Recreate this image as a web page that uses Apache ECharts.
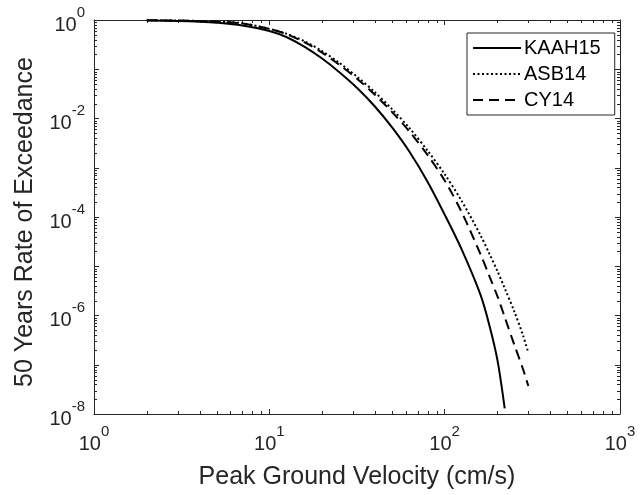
<!DOCTYPE html>
<html>
<head>
<meta charset="utf-8">
<script src="https://cdn.jsdelivr.net/npm/echarts@6/dist/echarts.min.js"></script>
<style>html,body{margin:0;padding:0;background:#fff;}#c{width:640px;height:495px;}</style>
</head>
<body>
<div id="c"></div>
<script>
// PGV values (cm/s)
var pgvKAAH = [2,3,4,5,7,10,12.5,16,20,25,32,40,50,63,80,100,125,160,180,200,220];
var pgvOther = [2,3,4,5,7,10,12.5,16,20,25,32,40,50,63,80,100,125,160,180,200,220,250,280,300];
// 50-year rate of exceedance
var kaah15 = [0.98,0.955,0.923,0.881,0.776,0.6,0.451,0.282,0.165,0.088,0.0402,0.0175,0.00667,0.00211,0.000515,0.000112,0.000022,0.00000265,0.00000063,0.000000124,0.000000013];
var asb14 = [0.99,0.975,0.955,0.93,0.86,0.66,0.528,0.366,0.233,0.136,0.0682,0.0341,0.0156,0.00637,0.00221,0.00074,0.000212,0.0000427,0.0000178,0.00000798,0.00000357,0.00000119,0.00000039,0.000000175];
var cy14 = [0.99,0.975,0.95,0.925,0.85,0.66,0.517,0.348,0.218,0.124,0.0622,0.0304,0.0136,0.00542,0.0018,0.00055,0.000126,0.0000176,0.00000625,0.00000245,0.00000093,0.00000025,0.000000081,0.000000037];
var seriesNames = ['KAAH15','ASB14','CY14'];

function pairs(xs, ys){ return xs.map(function(x,i){ return [x, ys[i]]; }); }

var axisColor = '#262626';
var FONT = 'Liberation Sans, Arial, Helvetica, sans-serif';
function powLabel(v, show){
  var e = Math.round(Math.log(v)/Math.LN10);
  if (!show(e)) return '';
  return '{b|10}{s|' + e + '}';
}
var rich = {
  b: {fontSize: 20, fontFamily: FONT, color: axisColor, lineHeight: 30, verticalAlign: 'bottom'},
  s: {fontSize: 15, fontFamily: FONT, color: axisColor, lineHeight: 30, verticalAlign: 'top'}
};

var chart = echarts.init(document.getElementById('c'), null, {renderer: 'canvas'});
var common = {
  type: 'log', logBase: 10,
  axisLine: {show: true, onZero: false, lineStyle: {color: axisColor, width: 1}},
  axisTick: {show: true, inside: true, length: 5, lineStyle: {color: axisColor}},
  splitLine: {show: false}
};
var option = {
  animation: false,
  backgroundColor: '#fff',
  grid: {left: 94, right: 20, top: 20, bottom: 79, containLabel: false},
  xAxis: [
    Object.assign({}, common, {
      min: 1, max: 1000, splitNumber: 3, position: 'bottom',
      name: 'Peak Ground Velocity (cm/s)', nameLocation: 'middle', nameGap: 51,
      nameTextStyle: {fontSize: 25, fontFamily: FONT, color: axisColor},
      axisLabel: {margin: 10, formatter: function(v){ return powLabel(v, function(){return true;}); }, rich: rich}
    }),
    Object.assign({}, common, {
      min: 1, max: 1000, splitNumber: 3, position: 'top',
      axisLabel: {show: false}
    })
  ],
  yAxis: [
    Object.assign({}, common, {
      min: 1e-8, max: 1, splitNumber: 8, position: 'left',
      name: '50 Years Rate of Exceedance', nameLocation: 'middle', nameGap: 56,
      nameTextStyle: {fontSize: 25, fontFamily: FONT, color: axisColor, padding: [0, 10, 0, 0]},
      axisLabel: {margin: 9, formatter: function(v){ return powLabel(v, function(e){ return e % 2 === 0; }); }, rich: rich}
    }),
    Object.assign({}, common, {
      min: 1e-8, max: 1, splitNumber: 8, position: 'right',
      axisLabel: {show: false}
    })
  ],
  legend: {
    orient: 'vertical', left: 467, top: 33,
    data: seriesNames,
    backgroundColor: '#fff', borderColor: axisColor, borderWidth: 1, borderRadius: 0,
    padding: [5, 14, 5, 5], itemGap: 6, itemWidth: 48, itemHeight: 20,
    itemStyle: {opacity: 0},
    textStyle: {fontSize: 20, fontFamily: FONT, color: '#000', padding: [0,0,0,-2]}
  },
  series: [
    {name: seriesNames[0], type: 'line', data: pairs(pgvKAAH, kaah15), symbol: 'none', smooth: 0.3,
     lineStyle: {color: '#000', width: 2, type: 'solid'}, itemStyle: {color: '#000'}},
    {name: seriesNames[1], type: 'line', data: pairs(pgvOther, asb14), symbol: 'none', smooth: 0.3,
     lineStyle: {color: '#000', width: 2, type: [2, 2.5]}, itemStyle: {color: '#000'}},
    {name: seriesNames[2], type: 'line', data: pairs(pgvOther, cy14), symbol: 'none', smooth: 0.3,
     lineStyle: {color: '#000', width: 2, type: [10, 6]}, itemStyle: {color: '#000'}}
  ]
};
chart.setOption(option);

// minor log ticks drawn via the library's own coordinate conversion
function minorTicks(){
  var els = [];
  var gx = chart.convertToPixel({xAxisIndex: 0}, 1);
  var gx2 = chart.convertToPixel({xAxisIndex: 0}, 1000);
  var gyTop = chart.convertToPixel({yAxisIndex: 0}, 1);
  var gyBot = chart.convertToPixel({yAxisIndex: 0}, 1e-8);
  var L = 3;
  var st = {stroke: axisColor, lineWidth: 1};
  for (var d = 0; d < 3; d++) {
    for (var k = 2; k <= 9; k++) {
      var px = Math.round(chart.convertToPixel({xAxisIndex: 0}, k * Math.pow(10, d))) + 0.5;
      els.push({type: 'line', shape: {x1: px, y1: gyBot, x2: px, y2: gyBot - L}, style: st, silent: true});
      els.push({type: 'line', shape: {x1: px, y1: gyTop, x2: px, y2: gyTop + L}, style: st, silent: true});
    }
  }
  for (var e = -8; e < 0; e++) {
    for (var k2 = 2; k2 <= 9; k2++) {
      var py = Math.round(chart.convertToPixel({yAxisIndex: 0}, k2 * Math.pow(10, e))) + 0.5;
      els.push({type: 'line', shape: {x1: gx, y1: py, x2: gx + L, y2: py}, style: st, silent: true});
      els.push({type: 'line', shape: {x1: gx2, y1: py, x2: gx2 - L, y2: py}, style: st, silent: true});
    }
  }
  chart.setOption({graphic: els});
}
minorTicks();
</script>
</body>
</html>
